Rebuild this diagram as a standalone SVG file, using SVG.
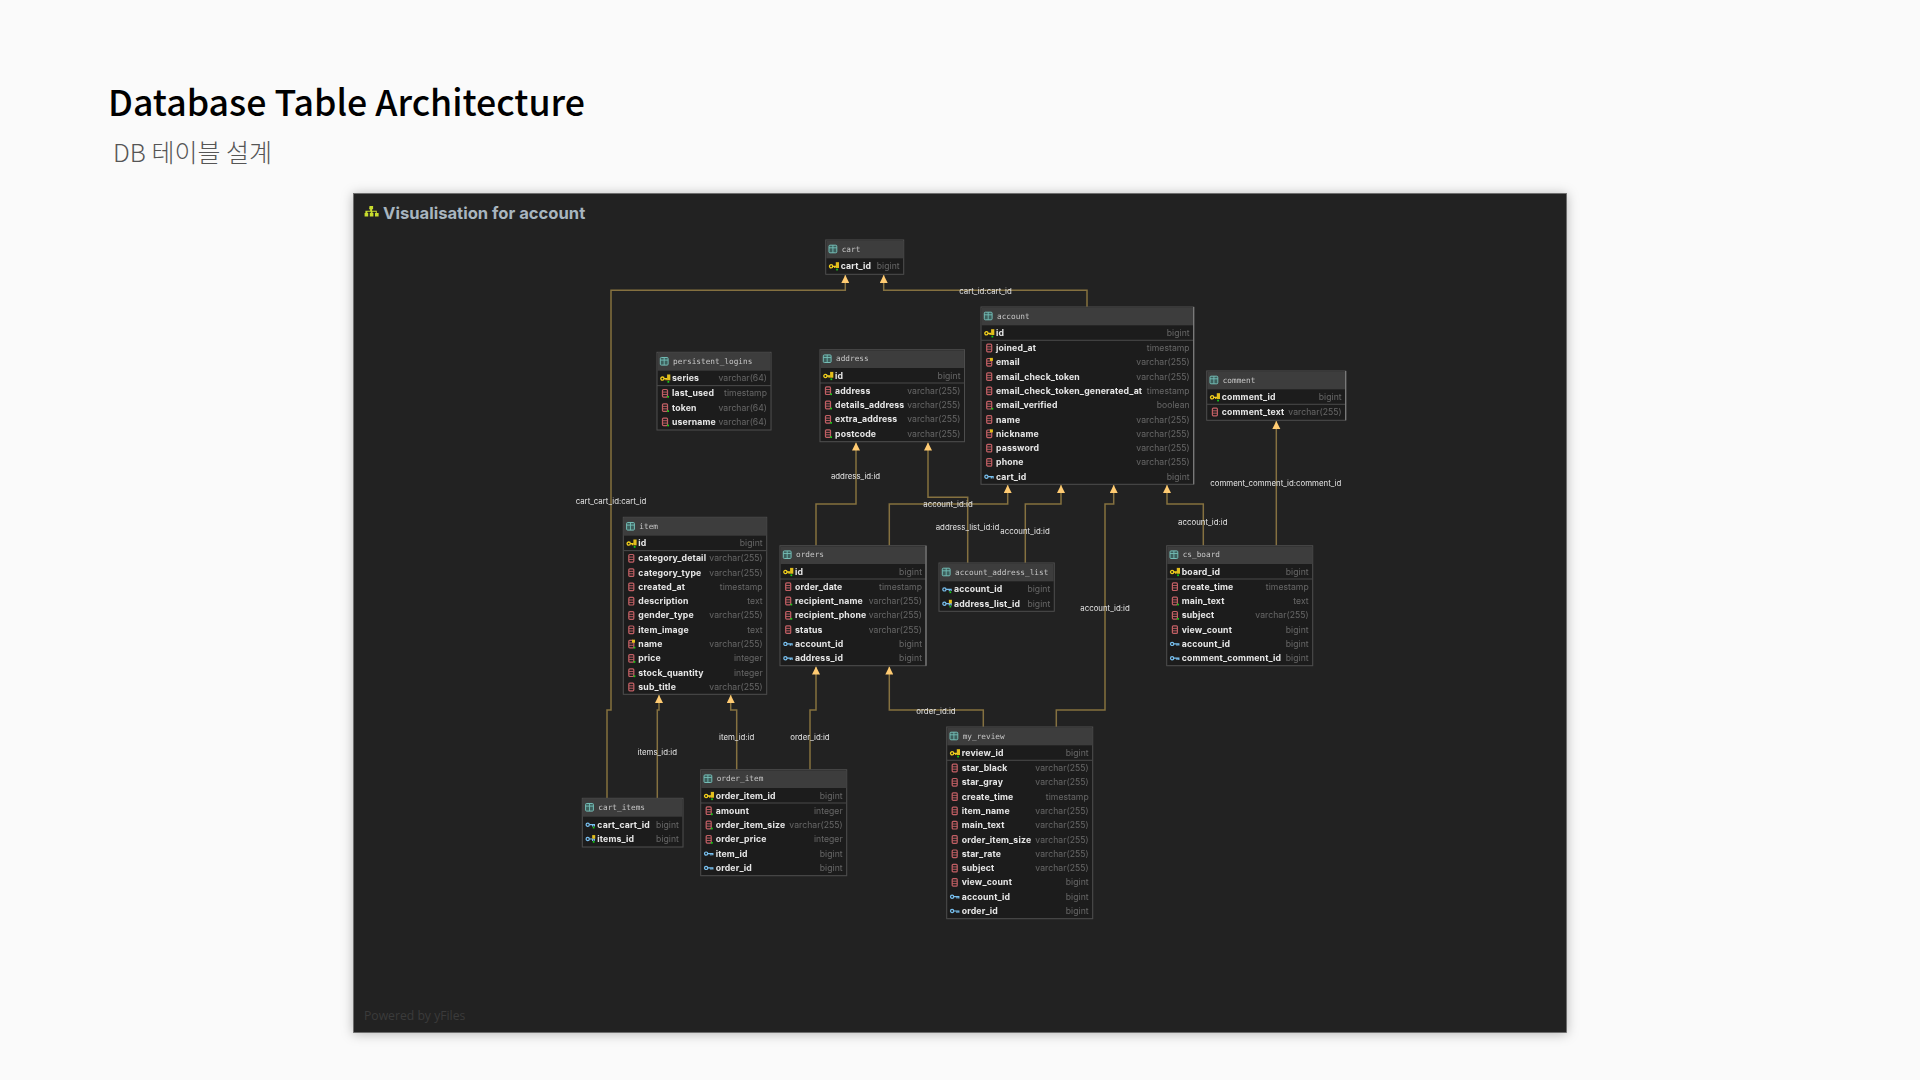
<svg xmlns="http://www.w3.org/2000/svg" width="1920" height="1080" viewBox="0 0 1920 1080">
<style>
.title{font-family:"Noto Sans CJK KR","Noto Sans",sans-serif;font-weight:500;font-size:35.7px;fill:#000}
.sub{font-family:"Noto Sans CJK KR","Noto Sans",sans-serif;font-weight:300;font-size:25px;fill:#555}
.vt{font-family:Inter,"Liberation Sans",sans-serif;font-weight:700;font-size:16.6px;fill:#a8b5bf}
.pw{font-family:"Open Sans","Liberation Sans",sans-serif;font-size:12.2px;fill:#3b3b3b}
.box{fill:#1f1f1f;stroke:#4e4e4e;stroke-width:1}
.hd{fill:#3e3e3e}
.sep{stroke:#484848;stroke-width:1}
.h{font-family:"DejaVu Sans Mono","Liberation Mono",monospace;font-size:7.75px;fill:#c4c4c4}
.n{font-family:Inter,"Liberation Sans",sans-serif;font-weight:700;font-size:8.7px;letter-spacing:.17px;fill:#e6e6e6}
.t{font-family:Inter,"Liberation Sans",sans-serif;font-size:8.6px;fill:#666;text-anchor:end;letter-spacing:.05px}
.e{fill:none;stroke:#85713f;stroke-width:1.5;marker-end:url(#arr)}
.l{font-family:Inter,"Liberation Sans",sans-serif;font-size:7.85px;fill:#e4e4e4;text-anchor:middle}
.edge{stroke:#808080;stroke-width:1.2}
</style>
<defs>
<filter id="sh" x="-5%" y="-5%" width="110%" height="110%"><feDropShadow dx="0" dy="1" stdDeviation="6" flood-color="#000" flood-opacity=".28"/></filter>
<filter id="soft" filterUnits="userSpaceOnUse" x="354" y="194" width="1212" height="838"><feGaussianBlur stdDeviation=".35"/></filter>
<marker id="arr" markerUnits="userSpaceOnUse" viewBox="0 0 8 8" refX="8" refY="4" markerWidth="8" markerHeight="8.4" orient="auto"><path d="M0 0L8 4L0 8Z" fill="#ffcb72"/></marker>
<g id="ti"><rect x="0" y="-3.8" width="7.8" height="7.6" rx="1" fill="#3c5f5c" stroke="#74bdb6" stroke-width="1"/><path d="M0 -1.2H7.8M3.9 -3.8V3.8" stroke="#74bdb6" stroke-width=".9"/></g>
<g id="c"><rect x="0" y="-3.8" width="5" height="7.6" rx="1" fill="none" stroke="#c25f64" stroke-width="1.2"/><path d="M0 -1.2H5M0 1.2H5" stroke="#c25f64" stroke-width=".9"/></g>
<rect id="dg" width="1.7" height="1.7" fill="#15d015"/>
<rect id="dy" width="3" height="3" fill="#e3bf1c"/>
<g id="kb"><circle cx="1.7" cy="0" r="1.6" fill="none" stroke="#78c0f0" stroke-width="1.2"/><path d="M3.2 0H9M6.6 0V1.9M8.4 0V1.7" stroke="#78c0f0" stroke-width="1.2" fill="none"/></g>
<g id="ky"><circle cx="1.7" cy="0.3" r="1.6" fill="none" stroke="#f2cf1e" stroke-width="1.3"/><path d="M3.2 0.3H6.6M5.4 .3V2" stroke="#f2cf1e" stroke-width="1.3" fill="none"/><rect x="6.4" y="-3.8" width="3.2" height="5.8" fill="#e3bf1c"/><use href="#dg" x="6.8" y="2.7"/></g>
<g id="cg"><use href="#c"/><use href="#dg" x="4.8" y="2.7"/></g>
<g id="cy"><use href="#c"/><use href="#dy" x="3.2" y="-4.4"/></g>
<g id="cyg"><use href="#cy"/><use href="#dg" x="4.8" y="2.7"/></g>
<g id="fg"><use href="#kb"/><use href="#dg" x="6.8" y="2"/></g>
<g id="fyg"><use href="#fg"/><rect x="6.2" y="-3.9" width="3" height="3.6" fill="#e3bf1c"/></g>
</defs>
<rect width="1920" height="1080" fill="#fafafa"/>
<text class="title" x="108" y="116">Database Table Architecture</text>
<text class="sub" x="113" y="162">DB 테이블 설계</text>
<rect id="panel" x="353.5" y="193.5" width="1213" height="839" fill="#212121" stroke="#6a6a6a" stroke-width=".8" filter="url(#sh)"/>
<g id="panel-title"><path d="M369.5 206h3.6v3.2h-1v1.5h4.7v2.4h1v0h.8v3.4h-3.6v-3.4h.8v-1.4h-3.3v1.4h.9v3.4h-3.6v-3.4h.9v-1.4h-3.3v1.4h.8v3.4h-3.6v-3.4h.8v-2.4h4.7v-1.5h-1z" fill="#c8dc2e"/><text class="vt" x="383" y="218.5">Visualisation for account</text></g>
<text class="pw" x="364" y="1020">Powered by yFiles</text>
<g id="diagram" filter="url(#soft)">
<g id="connectors">
<polyline class="e" points="607,798 607,710 611,710 611,290.3 845.3,290.3 845.3,275"/>
<polyline class="e" points="1087,307 1087,290.3 883.7,290.3 883.7,275"/>
<polyline class="e" points="816,545.7 816,504 856,504 856,442.5"/>
<polyline class="e" points="889.3,545.7 889.3,504 1007.7,504 1007.7,485"/>
<polyline class="e" points="967.7,563 967.7,497.3 928,497.3 928,442.5"/>
<polyline class="e" points="1025.3,563 1025.3,504 1061,504 1061,485"/>
<polyline class="e" points="1056.3,727 1056.3,710 1105,710 1105,504 1113.7,504 1113.7,485"/>
<polyline class="e" points="1203.3,545.7 1203.3,504 1167,504 1167,485"/>
<polyline class="e" points="1276.3,545.7 1276.3,421"/>
<polyline class="e" points="983.3,727 983.3,710 889.3,710 889.3,666.5"/>
<polyline class="e" points="810,769.7 810,710 816,710 816,666.5"/>
<polyline class="e" points="736.7,769.7 736.7,710 730.7,710 730.7,695"/>
<polyline class="e" points="657.3,798 657.3,710 659,710 659,695"/>
<text class="l" x="611" y="504">cart_cart_id:cart_id</text>
<text class="l" x="985.5" y="294">cart_id:cart_id</text>
<text class="l" x="855.5" y="479">address_id:id</text>
<text class="l" x="948" y="507">account_id:id</text>
<text class="l" x="967.5" y="530">address_list_id:id</text>
<text class="l" x="1025" y="533.7">account_id:id</text>
<text class="l" x="1105" y="610.7">account_id:id</text>
<text class="l" x="1202.8" y="524.7">account_id:id</text>
<text class="l" x="1275.8" y="486.3">comment_comment_id:comment_id</text>
<text class="l" x="936" y="713.7">order_id:id</text>
<text class="l" x="810" y="740.3">order_id:id</text>
<text class="l" x="736.7" y="740.3">item_id:id</text>
<text class="l" x="657.3" y="755">items_id:id</text>
</g>

<g id="cart" transform="translate(825.7,240)">
<rect class="box" width="78" height="34.3"/><rect class="hd" x=".6" y=".6" width="76.8" height="17.7"/><use href="#ti" x="3.3" y="9"/><text class="h" x="16" y="11.7">cart</text>
<use href="#ky" x="3.7" y="26"/><text class="n" x="15" y="29">cart_id</text><text class="t" x="74" y="29">bigint</text>
</g>

<g id="persistent_logins" transform="translate(657,352.3)">
<rect class="box" width="114" height="77.7"/><rect class="hd" x=".6" y=".6" width="112.8" height="17.7"/><use href="#ti" x="3.3" y="9"/><text class="h" x="16" y="11.7">persistent_logins</text>
<use href="#ky" x="3.7" y="26"/><text class="n" x="15" y="29">series</text><text class="t" x="110" y="29">varchar(64)</text>
<line class="sep" x1="0" y1="33.3" x2="114" y2="33.3"/>
<use href="#cg" x="5.5" y="41"/><text class="n" x="15" y="44">last_used</text><text class="t" x="110" y="44">timestamp</text>
<use href="#cg" x="5.5" y="55.3"/><text class="n" x="15" y="58.3">token</text><text class="t" x="110" y="58.3">varchar(64)</text>
<use href="#cg" x="5.5" y="69.6"/><text class="n" x="15" y="72.6">username</text><text class="t" x="110" y="72.6">varchar(64)</text>
</g>

<g id="address" transform="translate(820,349.7)">
<rect class="box" width="144.5" height="92"/><rect class="hd" x=".6" y=".6" width="143.3" height="17.7"/><use href="#ti" x="3.3" y="9"/><text class="h" x="16" y="11.7">address</text>
<use href="#ky" x="3.7" y="26"/><text class="n" x="15" y="29">id</text><text class="t" x="140.5" y="29">bigint</text>
<line class="sep" x1="0" y1="33.3" x2="144.5" y2="33.3"/>
<use href="#cg" x="5.5" y="41"/><text class="n" x="15" y="44">address</text><text class="t" x="140.5" y="44">varchar(255)</text>
<use href="#cg" x="5.5" y="55.3"/><text class="n" x="15" y="58.3">details_address</text><text class="t" x="140.5" y="58.3">varchar(255)</text>
<use href="#cg" x="5.5" y="69.6"/><text class="n" x="15" y="72.6">extra_address</text><text class="t" x="140.5" y="72.6">varchar(255)</text>
<use href="#cg" x="5.5" y="83.9"/><text class="n" x="15" y="86.9">postcode</text><text class="t" x="140.5" y="86.9">varchar(255)</text>
</g>

<g id="account" transform="translate(981,307)">
<rect class="box" width="212.7" height="177.3"/><rect class="hd" x=".6" y=".6" width="211.5" height="17.7"/><use href="#ti" x="3.3" y="9"/><text class="h" x="16" y="11.7">account</text>
<use href="#ky" x="3.7" y="26"/><text class="n" x="15" y="29">id</text><text class="t" x="208.7" y="29">bigint</text>
<line class="sep" x1="0" y1="33.3" x2="212.7" y2="33.3"/>
<use href="#c" x="5.7" y="41"/><text class="n" x="15" y="44">joined_at</text><text class="t" x="208.7" y="44">timestamp</text>
<use href="#cy" x="5.7" y="55.3"/><text class="n" x="15" y="58.3">email</text><text class="t" x="208.7" y="58.3">varchar(255)</text>
<use href="#c" x="5.7" y="69.6"/><text class="n" x="15" y="72.6">email_check_token</text><text class="t" x="208.7" y="72.6">varchar(255)</text>
<use href="#c" x="5.7" y="83.9"/><text class="n" x="15" y="86.9">email_check_token_generated_at</text><text class="t" x="208.7" y="86.9">timestamp</text>
<use href="#cg" x="5.7" y="98.2"/><text class="n" x="15" y="101.2">email_verified</text><text class="t" x="208.7" y="101.2">boolean</text>
<use href="#c" x="5.7" y="112.5"/><text class="n" x="15" y="115.5">name</text><text class="t" x="208.7" y="115.5">varchar(255)</text>
<use href="#cy" x="5.7" y="126.8"/><text class="n" x="15" y="129.8">nickname</text><text class="t" x="208.7" y="129.8">varchar(255)</text>
<use href="#c" x="5.7" y="141.1"/><text class="n" x="15" y="144.1">password</text><text class="t" x="208.7" y="144.1">varchar(255)</text>
<use href="#c" x="5.7" y="155.4"/><text class="n" x="15" y="158.4">phone</text><text class="t" x="208.7" y="158.4">varchar(255)</text>
<use href="#kb" x="3.7" y="169.7"/><text class="n" x="15" y="172.7">cart_id</text><text class="t" x="208.7" y="172.7">bigint</text>
<line class="edge" x1="212.7" y1="0" x2="212.7" y2="177.3"/>
</g>

<g id="comment" transform="translate(1206.7,371)">
<rect class="box" width="139" height="49.3"/><rect class="hd" x=".6" y=".6" width="137.8" height="17.7"/><use href="#ti" x="3.3" y="9"/><text class="h" x="16" y="11.7">comment</text>
<use href="#ky" x="3.7" y="26"/><text class="n" x="15" y="29">comment_id</text><text class="t" x="135" y="29">bigint</text>
<line class="sep" x1="0" y1="33.3" x2="139" y2="33.3"/>
<use href="#c" x="5.7" y="41"/><text class="n" x="15" y="44">comment_text</text><text class="t" x="135" y="44">varchar(255)</text>
<line class="edge" x1="139" y1="0" x2="139" y2="49.3"/>
</g>

<g id="item" transform="translate(623.3,517.3)">
<rect class="box" width="143.4" height="177"/><rect class="hd" x=".6" y=".6" width="142.2" height="17.7"/><use href="#ti" x="3.3" y="9"/><text class="h" x="16" y="11.7">item</text>
<use href="#ky" x="3.7" y="26"/><text class="n" x="15" y="29">id</text><text class="t" x="139.4" y="29">bigint</text>
<line class="sep" x1="0" y1="33.3" x2="143.4" y2="33.3"/>
<use href="#c" x="5.5" y="41"/><text class="n" x="15" y="44">category_detail</text><text class="t" x="139.4" y="44">varchar(255)</text>
<use href="#c" x="5.5" y="55.3"/><text class="n" x="15" y="58.3">category_type</text><text class="t" x="139.4" y="58.3">varchar(255)</text>
<use href="#c" x="5.5" y="69.6"/><text class="n" x="15" y="72.6">created_at</text><text class="t" x="139.4" y="72.6">timestamp</text>
<use href="#c" x="5.5" y="83.9"/><text class="n" x="15" y="86.9">description</text><text class="t" x="139.4" y="86.9">text</text>
<use href="#c" x="5.5" y="98.2"/><text class="n" x="15" y="101.2">gender_type</text><text class="t" x="139.4" y="101.2">varchar(255)</text>
<use href="#c" x="5.5" y="112.5"/><text class="n" x="15" y="115.5">item_image</text><text class="t" x="139.4" y="115.5">text</text>
<use href="#cyg" x="5.5" y="126.8"/><text class="n" x="15" y="129.8">name</text><text class="t" x="139.4" y="129.8">varchar(255)</text>
<use href="#cg" x="5.5" y="141.1"/><text class="n" x="15" y="144.1">price</text><text class="t" x="139.4" y="144.1">integer</text>
<use href="#cg" x="5.5" y="155.4"/><text class="n" x="15" y="158.4">stock_quantity</text><text class="t" x="139.4" y="158.4">integer</text>
<use href="#c" x="5.5" y="169.7"/><text class="n" x="15" y="172.7">sub_title</text><text class="t" x="139.4" y="172.7">varchar(255)</text>
</g>

<g id="orders" transform="translate(780,545.7)">
<rect class="box" width="146" height="120"/><rect class="hd" x=".6" y=".6" width="144.8" height="17.7"/><use href="#ti" x="3.3" y="9"/><text class="h" x="16" y="11.7">orders</text>
<use href="#ky" x="3.7" y="26"/><text class="n" x="15" y="29">id</text><text class="t" x="142" y="29">bigint</text>
<line class="sep" x1="0" y1="33.3" x2="146" y2="33.3"/>
<use href="#c" x="5.7" y="41"/><text class="n" x="15" y="44">order_date</text><text class="t" x="142" y="44">timestamp</text>
<use href="#cg" x="5.7" y="55.3"/><text class="n" x="15" y="58.3">recipient_name</text><text class="t" x="142" y="58.3">varchar(255)</text>
<use href="#cg" x="5.7" y="69.6"/><text class="n" x="15" y="72.6">recipient_phone</text><text class="t" x="142" y="72.6">varchar(255)</text>
<use href="#c" x="5.7" y="83.9"/><text class="n" x="15" y="86.9">status</text><text class="t" x="142" y="86.9">varchar(255)</text>
<use href="#kb" x="3.7" y="98.2"/><text class="n" x="15" y="101.2">account_id</text><text class="t" x="142" y="101.2">bigint</text>
<use href="#kb" x="3.7" y="112.5"/><text class="n" x="15" y="115.5">address_id</text><text class="t" x="142" y="115.5">bigint</text>
<line class="edge" x1="146" y1="0" x2="146" y2="120"/>
</g>

<g id="account_address_list" transform="translate(939,563)">
<rect class="box" width="115.3" height="48.3"/><rect class="hd" x=".6" y=".6" width="114.1" height="17.7"/><use href="#ti" x="3.3" y="9"/><text class="h" x="16" y="11.7">account_address_list</text>
<use href="#fg" x="3.7" y="26.4"/><text class="n" x="15" y="29.4">account_id</text><text class="t" x="111.3" y="29.4">bigint</text>
<use href="#fyg" x="3.7" y="40.7"/><text class="n" x="15" y="43.7">address_list_id</text><text class="t" x="111.3" y="43.7">bigint</text>
</g>

<g id="cs_board" transform="translate(1166.7,545.7)">
<rect class="box" width="146" height="120"/><rect class="hd" x=".6" y=".6" width="144.8" height="17.7"/><use href="#ti" x="3.3" y="9"/><text class="h" x="16" y="11.7">cs_board</text>
<use href="#ky" x="3.7" y="26"/><text class="n" x="15" y="29">board_id</text><text class="t" x="142" y="29">bigint</text>
<line class="sep" x1="0" y1="33.3" x2="146" y2="33.3"/>
<use href="#c" x="5.7" y="41"/><text class="n" x="15" y="44">create_time</text><text class="t" x="142" y="44">timestamp</text>
<use href="#cg" x="5.7" y="55.3"/><text class="n" x="15" y="58.3">main_text</text><text class="t" x="142" y="58.3">text</text>
<use href="#cg" x="5.7" y="69.6"/><text class="n" x="15" y="72.6">subject</text><text class="t" x="142" y="72.6">varchar(255)</text>
<use href="#c" x="5.7" y="83.9"/><text class="n" x="15" y="86.9">view_count</text><text class="t" x="142" y="86.9">bigint</text>
<use href="#kb" x="3.7" y="98.2"/><text class="n" x="15" y="101.2">account_id</text><text class="t" x="142" y="101.2">bigint</text>
<use href="#kb" x="3.7" y="112.5"/><text class="n" x="15" y="115.5">comment_comment_id</text><text class="t" x="142" y="115.5">bigint</text>
</g>

<g id="cart_items" transform="translate(582.3,798.3)">
<rect class="box" width="100.7" height="48.7"/><rect class="hd" x=".6" y=".6" width="99.5" height="17.7"/><use href="#ti" x="3.3" y="9"/><text class="h" x="16" y="11.7">cart_items</text>
<use href="#fg" x="3.7" y="26.4"/><text class="n" x="15" y="29.4">cart_cart_id</text><text class="t" x="96.7" y="29.4">bigint</text>
<use href="#fyg" x="3.7" y="40.7"/><text class="n" x="15" y="43.7">items_id</text><text class="t" x="96.7" y="43.7">bigint</text>
</g>

<g id="order_item" transform="translate(700.7,769.7)">
<rect class="box" width="146" height="106"/><rect class="hd" x=".6" y=".6" width="144.8" height="17.7"/><use href="#ti" x="3.3" y="9"/><text class="h" x="16" y="11.7">order_item</text>
<use href="#ky" x="3.7" y="26"/><text class="n" x="15" y="29">order_item_id</text><text class="t" x="142" y="29">bigint</text>
<line class="sep" x1="0" y1="33.3" x2="146" y2="33.3"/>
<use href="#cg" x="5.5" y="41"/><text class="n" x="15" y="44">amount</text><text class="t" x="142" y="44">integer</text>
<use href="#cg" x="5.5" y="55.3"/><text class="n" x="15" y="58.3">order_item_size</text><text class="t" x="142" y="58.3">varchar(255)</text>
<use href="#cg" x="5.5" y="69.6"/><text class="n" x="15" y="72.6">order_price</text><text class="t" x="142" y="72.6">integer</text>
<use href="#kb" x="3.7" y="83.9"/><text class="n" x="15" y="86.9">item_id</text><text class="t" x="142" y="86.9">bigint</text>
<use href="#kb" x="3.7" y="98.2"/><text class="n" x="15" y="101.2">order_id</text><text class="t" x="142" y="101.2">bigint</text>
</g>

<g id="my_review" transform="translate(946.7,727)">
<rect class="box" width="146" height="191.7"/><rect class="hd" x=".6" y=".6" width="144.8" height="17.7"/><use href="#ti" x="3.3" y="9"/><text class="h" x="16" y="11.7">my_review</text>
<use href="#ky" x="3.7" y="26"/><text class="n" x="15" y="29">review_id</text><text class="t" x="142" y="29">bigint</text>
<line class="sep" x1="0" y1="33.3" x2="146" y2="33.3"/>
<use href="#c" x="5.5" y="41"/><text class="n" x="15" y="44">star_black</text><text class="t" x="142" y="44">varchar(255)</text>
<use href="#c" x="5.5" y="55.3"/><text class="n" x="15" y="58.3">star_gray</text><text class="t" x="142" y="58.3">varchar(255)</text>
<use href="#c" x="5.5" y="69.6"/><text class="n" x="15" y="72.6">create_time</text><text class="t" x="142" y="72.6">timestamp</text>
<use href="#c" x="5.5" y="83.9"/><text class="n" x="15" y="86.9">item_name</text><text class="t" x="142" y="86.9">varchar(255)</text>
<use href="#c" x="5.5" y="98.2"/><text class="n" x="15" y="101.2">main_text</text><text class="t" x="142" y="101.2">varchar(255)</text>
<use href="#c" x="5.5" y="112.5"/><text class="n" x="15" y="115.5">order_item_size</text><text class="t" x="142" y="115.5">varchar(255)</text>
<use href="#c" x="5.5" y="126.8"/><text class="n" x="15" y="129.8">star_rate</text><text class="t" x="142" y="129.8">varchar(255)</text>
<use href="#c" x="5.5" y="141.1"/><text class="n" x="15" y="144.1">subject</text><text class="t" x="142" y="144.1">varchar(255)</text>
<use href="#c" x="5.5" y="155.4"/><text class="n" x="15" y="158.4">view_count</text><text class="t" x="142" y="158.4">bigint</text>
<use href="#kb" x="3.7" y="169.7"/><text class="n" x="15" y="172.7">account_id</text><text class="t" x="142" y="172.7">bigint</text>
<use href="#kb" x="3.7" y="184"/><text class="n" x="15" y="187">order_id</text><text class="t" x="142" y="187">bigint</text>
</g>
</g>
</svg>
